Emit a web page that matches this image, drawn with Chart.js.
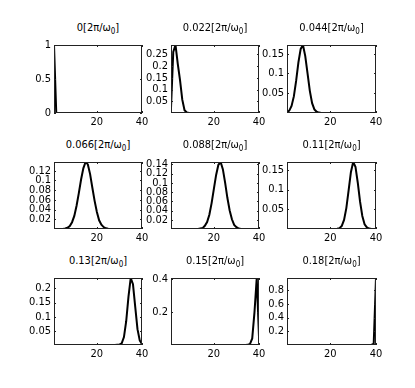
<!DOCTYPE html>
<html>
<head>
<meta charset="utf-8">
<script src="https://cdn.jsdelivr.net/npm/chart.js@4.4.1/dist/chart.umd.min.js"></script>
<style>
  body { margin: 0; background: #fff; width: 415px; height: 388px; position: relative; overflow: hidden; }
  canvas { position: absolute; }
  .ttl { position: absolute; width: 120px; text-align: center; color: #000; white-space: nowrap;
         font: 11px 'Liberation Sans Narrow', 'DejaVu Sans Condensed', sans-serif; line-height: 11px; }
  .ttl sub { font-size: 8px; vertical-align: -3px; line-height: 0; }
  #err { position: absolute; left: 0; top: 370px; font: 8px monospace; color: #00f; }
</style>
</head>
<body>
<div id="err"></div>
<script>
// time stamps of each snapshot, in units of 2pi/omega_0
const times = ['0', '0.022', '0.044', '0.066', '0.088', '0.11', '0.13', '0.15', '0.18'];
const xTicks = [20, 40];

// occupation on sites 1..40
const p0 = [1, 0, 0, 0, 0, 0, 0, 0, 0, 0, 0, 0, 0, 0, 0, 0, 0, 0, 0, 0,
            0, 0, 0, 0, 0, 0, 0, 0, 0, 0, 0, 0, 0, 0, 0, 0, 0, 0, 0, 0];
const p022 = [0.02, 0.26, 0.29, 0.21, 0.14, 0.057, 0.012, 0.002, 0, 0, 0, 0, 0, 0, 0, 0, 0, 0, 0, 0,
              0, 0, 0, 0, 0, 0, 0, 0, 0, 0, 0, 0, 0, 0, 0, 0, 0, 0, 0, 0];
const p044 = [0.002, 0.006, 0.018, 0.042, 0.081, 0.128, 0.162, 0.172, 0.144, 0.1, 0.056, 0.025, 0.009, 0.003, 0.001, 0, 0, 0, 0, 0,
              0, 0, 0, 0, 0, 0, 0, 0, 0, 0, 0, 0, 0, 0, 0, 0, 0, 0, 0, 0];
const p066 = [0, 0, 0, 0, 0, 0.001, 0.0025, 0.006, 0.014, 0.027, 0.048, 0.074, 0.102, 0.125, 0.138, 0.133, 0.113, 0.085, 0.058, 0.035,
              0.018, 0.009, 0.004, 0.0015, 0.0005, 0, 0, 0, 0, 0, 0, 0, 0, 0, 0, 0, 0, 0, 0, 0];
const p088 = [0, 0, 0, 0, 0, 0, 0, 0, 0, 0, 0, 0, 0, 0.001, 0.002, 0.007, 0.015, 0.031, 0.056, 0.087,
              0.117, 0.139, 0.145, 0.129, 0.1, 0.067, 0.04, 0.021, 0.009, 0.004, 0.001, 0, 0, 0, 0, 0, 0, 0, 0, 0];
const p11 = [0, 0, 0, 0, 0, 0, 0, 0, 0, 0, 0, 0, 0, 0, 0, 0, 0, 0, 0, 0,
             0, 0, 0.0005, 0.002, 0.008, 0.023, 0.053, 0.098, 0.144, 0.17, 0.158, 0.118, 0.07, 0.033, 0.012, 0.004, 0.001, 0, 0, 0];
const p13 = [0, 0, 0, 0, 0, 0, 0, 0, 0, 0, 0, 0, 0, 0, 0, 0, 0, 0, 0, 0,
             0, 0, 0, 0, 0, 0, 0, 0, 0.0005, 0.001, 0.006, 0.028, 0.084, 0.17, 0.237, 0.215, 0.135, 0.056, 0.016, 0.003];
const p15 = [0, 0, 0, 0, 0, 0, 0, 0, 0, 0, 0, 0, 0, 0, 0, 0, 0, 0, 0, 0,
             0, 0, 0, 0, 0, 0, 0, 0, 0, 0, 0, 0, 0, 0, 0.001, 0.006, 0.04, 0.2, 0.407, 0.05];
const p18 = [0, 0, 0, 0, 0, 0, 0, 0, 0, 0, 0, 0, 0, 0, 0, 0, 0, 0, 0, 0,
             0, 0, 0, 0, 0, 0, 0, 0, 0, 0, 0, 0, 0, 0, 0, 0, 0, 0.001, 0.02, 0.975];

const series = [p0, p022, p044, p066, p088, p11, p13, p15, p18];
const yMax = [1, 0.29, 0.172, 0.138, 0.145, 0.17, 0.237, 0.407, 0.975];
const yTicks = [
  [0, 0.5, 1],
  [0.05, 0.1, 0.15, 0.2, 0.25],
  [0.05, 0.1, 0.15],
  [0.02, 0.04, 0.06, 0.08, 0.1, 0.12],
  [0.02, 0.04, 0.06, 0.08, 0.1, 0.12, 0.14],
  [0.05, 0.1, 0.15],
  [0.05, 0.1, 0.15, 0.2],
  [0.2, 0.4],
  [0.2, 0.4, 0.6, 0.8]
];

// plot box geometry
const colLeft = [54, 171, 287], colW = [88, 88, 89];
const rowTop = [45, 162, 278], rowH = [68, 67, 67];
const padL = 40, padT = 5, padR = 8, padB = 20;

const errBox = document.getElementById('err');
const report = e => { errBox.textContent += String(e) + ' '; };

Chart.defaults.font.family = "'Liberation Sans Narrow', 'DejaVu Sans Condensed', sans-serif";
Chart.defaults.font.size = 11;
Chart.defaults.color = '#000';

// matlab style box with inward ticks on all four sides
const frameBox = {
  id: 'frameBox',
  afterDraw(chart) {
    try {
      const { ctx, chartArea: a, scales } = chart;
      ctx.save();
      ctx.strokeStyle = '#222';
      ctx.lineWidth = 1;
      ctx.strokeRect(a.left + 0.5, a.top + 0.5, a.width - 1, a.height - 1);
      ctx.beginPath();
      scales.x.ticks.forEach(t => {
        const px = Math.round(scales.x.getPixelForValue(t.value)) + 0.5;
        ctx.moveTo(px, a.bottom); ctx.lineTo(px, a.bottom - 2);
        ctx.moveTo(px, a.top); ctx.lineTo(px, a.top + 2);
      });
      scales.y.ticks.forEach(t => {
        const py = Math.round(scales.y.getPixelForValue(t.value)) + 0.5;
        ctx.moveTo(a.left, py); ctx.lineTo(a.left + 2, py);
        ctx.moveTo(a.right, py); ctx.lineTo(a.right - 2, py);
      });
      ctx.stroke();
      ctx.restore();
    } catch (e) { report(e); }
  }
};

// drop the extra room chart.js keeps for half-labels at the ends
const noPad = s => { s.paddingTop = 0; s.paddingBottom = 0; s.paddingLeft = 0; s.paddingRight = 0; };

series.forEach((vals, i) => {
  try {
    const r = Math.floor(i / 3), c = i % 3;
    const w = colW[c], h = rowH[r];

    const cv = document.createElement('canvas');
    cv.width = padL + w + padR;
    cv.height = padT + h + padB;
    cv.style.left = (colLeft[c] - padL) + 'px';
    cv.style.top = (rowTop[r] - padT) + 'px';
    document.body.appendChild(cv);

    new Chart(cv, {
      type: 'line',
      data: {
        datasets: [{
          data: vals.map((v, k) => ({ x: k + 1, y: v })),
          borderColor: '#000',
          borderWidth: 2,
          pointRadius: 0,
          tension: 0,
          fill: false
        }]
      },
      options: {
        responsive: false,
        animation: false,
        events: [],
        layout: { padding: { left: 0, top: padT, right: padR, bottom: 0 } },
        plugins: { legend: { display: false }, tooltip: { enabled: false } },
        scales: {
          x: {
            type: 'linear', min: 1, max: 40,
            grid: { display: false, drawTicks: false },
            border: { display: false },
            ticks: { padding: 3, maxRotation: 0, autoSkip: false },
            afterBuildTicks: s => { s.ticks = xTicks.map(v => ({ value: v })); },
            afterFit: s => { s.height = padB; noPad(s); }
          },
          y: {
            type: 'linear', min: 0, max: yMax[i],
            grid: { display: false, drawTicks: false },
            border: { display: false },
            ticks: { padding: 3, autoSkip: false, callback: v => String(v) },
            afterBuildTicks: s => { s.ticks = yTicks[i].map(v => ({ value: v })); },
            afterFit: s => { s.width = padL; noPad(s); }
          }
        }
      },
      plugins: [frameBox]
    });

    const ttl = document.createElement('div');
    ttl.className = 'ttl';
    ttl.style.left = (colLeft[c] + w / 2 - 60) + 'px';
    ttl.style.top = (rowTop[r] - 23) + 'px';
    ttl.innerHTML = times[i] + '[2&pi;/&omega;<sub>0</sub>]';
    document.body.appendChild(ttl);
  } catch (e) { report(e); }
});
</script>
</body>
</html>
